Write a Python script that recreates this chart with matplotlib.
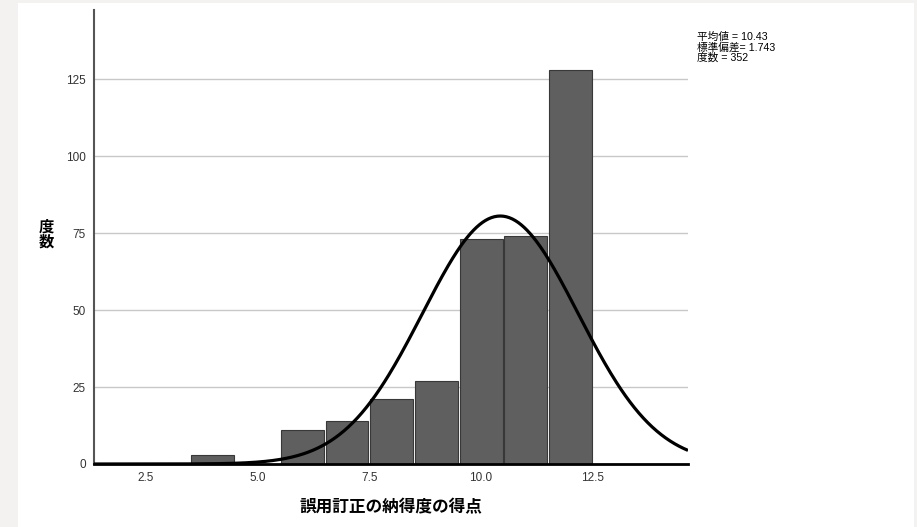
import numpy as np
import matplotlib
matplotlib.use("Agg")
import matplotlib.pyplot as plt
from matplotlib.patches import Rectangle

plt.rcParams['font.family'] = ['Liberation Sans', 'Noto Sans CJK JP', 'DejaVu Sans']

# histogram data (score -> count)
scores = [4, 6, 7, 8, 9, 10, 11, 12]
counts = [3, 11, 14, 21, 27, 73, 74, 128]
mean_val = 10.43
sd_val = 1.743
n_total = 352
yticks = [0, 25, 50, 75, 100, 125]
xticks = [2.5, 5.0, 7.5, 10.0, 12.5]
stats_lines = ['平均値 = 10.43', '標準偏差= 1.743', '度数 = 352']

fig = plt.figure(figsize=(9.17, 5.27), dpi=100)
fig.patch.set_facecolor('#f3f2f0')
fig.patches.append(Rectangle((18/917, 0), (914-18)/917, 524/527, transform=fig.transFigure,
                             facecolor='white', edgecolor='none', zorder=-10))

ax = fig.add_axes([94/917, 1-464/527, (688-94)/917, (464-10)/527])
ax.set_facecolor('white')

ax.set_xlim(1.34, 14.63)
ax.set_ylim(0, 147.5)

for y in yticks[1:]:
    ax.axhline(y, color='#c8c8c8', lw=1, zorder=1)

ax.bar(scores, counts, width=0.96, color='#5f5f5f', edgecolor='#383838', lw=0.8, zorder=2)

xs = np.linspace(1.34, 14.63, 400)
ys = n_total * 1.0 / (sd_val * np.sqrt(2*np.pi)) * np.exp(-0.5*((xs-mean_val)/sd_val)**2)
ax.plot(xs, ys, color='black', lw=2.3, zorder=3, solid_capstyle='butt')

for s in ['top', 'right']:
    ax.spines[s].set_visible(False)
ax.spines['left'].set_color('#555555')
ax.spines['left'].set_linewidth(1.5)
ax.spines['bottom'].set_color('black')
ax.spines['bottom'].set_linewidth(2)

ax.set_yticks(yticks)
ax.set_xticks(xticks)
ax.set_xticklabels(['%.1f' % v for v in xticks])
ax.tick_params(length=0, labelsize=8.5, colors='#333333')
ax.tick_params(axis='x', pad=6)
ax.tick_params(axis='y', pad=6)

ax.set_xlabel('誤用訂正の納得度の得点', fontsize=12, fontweight='bold', labelpad=11)
fig.text(46/917, 1-235/527, '度\n数', fontsize=11, fontweight='bold', ha='center', va='center',
         linespacing=1.0)

# stats box, one line each
for i, line in enumerate(stats_lines):
    fig.text(697/917, 1-(37+i*10.5)/527, line, fontsize=7.7, ha='left', va='center', color='black')

fig.savefig('out.png', dpi=100, facecolor=fig.get_facecolor())
